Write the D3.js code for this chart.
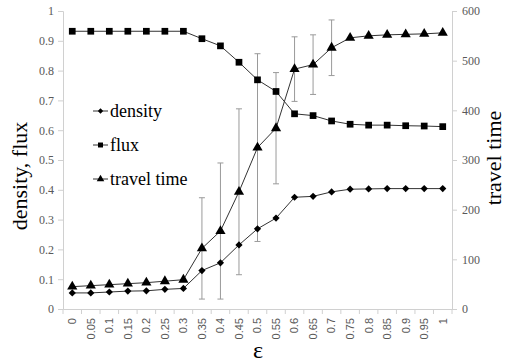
<!DOCTYPE html>
<html>
<head>
<meta charset="utf-8">
<script src="https://cdn.jsdelivr.net/npm/d3@7"></script>
<style>
  body { margin: 0; background: #fff; }
  svg { display: block; }
</style>
</head>
<body>
<svg width="507" height="363"></svg>
<script>
    // Data
    const epsilon = ["0", "0.05", "0.1", "0.15", "0.2", "0.25", "0.3", "0.35", "0.4", "0.45", "0.5",
      "0.55", "0.6", "0.65", "0.7", "0.75", "0.8", "0.85", "0.9", "0.95", "1"];
    const density = [0.054, 0.054, 0.057, 0.060, 0.061, 0.066, 0.069, 0.129, 0.155, 0.215, 0.269,
      0.305, 0.375, 0.378, 0.393, 0.402, 0.403, 0.404, 0.404, 0.404, 0.404];
    const flux = [0.932, 0.932, 0.932, 0.932, 0.932, 0.932, 0.932, 0.907, 0.883, 0.828, 0.769,
      0.730, 0.655, 0.649, 0.631, 0.620, 0.617, 0.617, 0.615, 0.614, 0.612];
    const travelTime = [45, 47, 49, 51, 53, 56, 59, 122, 157, 236, 325,
      364, 483, 492, 526, 546, 550, 552, 553, 554, 556];
    const travelErr = [0, 0, 0, 0, 0, 0, 0, 102, 137, 167, 189,
      112, 65, 60, 56, 0, 0, 0, 0, 0, 0];
    const leftTicks = [0, 0.1, 0.2, 0.3, 0.4, 0.5, 0.6, 0.7, 0.8, 0.9, 1];
    const rightTicks = [0, 100, 200, 300, 400, 500, 600];

    const serif = "'Liberation Serif', 'DejaVu Serif', serif";
    const sans = "'Liberation Sans', 'DejaVu Sans', sans-serif";

    const margin = { top: 11, right: 55, bottom: 54, left: 63 },
      width = 507 - margin.left - margin.right,
      height = 363 - margin.top - margin.bottom;

    const svg = d3.select("svg")
      .append("g")
      .attr("transform", `translate(${margin.left}, ${margin.top})`);

    const x = d3.scaleBand().domain(epsilon).range([0, width]);
    const cx = d => x(d) + x.bandwidth() / 2;
    const yL = d3.scaleLinear().domain([0, 1]).range([height, 0]);
    const yR = d3.scaleLinear().domain([0, 600]).range([height, 0]);

    const axisColor = "#d0d0d0";
    const labelColor = "#595959";

    // left axis
    const gl = svg.append("g").call(d3.axisLeft(yL).tickValues(leftTicks).tickSize(5).tickFormat(d3.format("")));
    gl.selectAll("line, path").attr("stroke", axisColor);
    gl.selectAll("text").attr("fill", labelColor).attr("font-family", serif)
      .attr("font-size", 12).attr("x", -9);

    // right axis
    const gr = svg.append("g").attr("transform", `translate(${width},0)`)
      .call(d3.axisRight(yR).tickValues(rightTicks).tickSize(5));
    gr.selectAll("line, path").attr("stroke", axisColor);
    gr.selectAll("text").attr("fill", labelColor).attr("font-family", serif)
      .attr("font-size", 12).attr("x", 10);

    // x axis, ticks at band edges
    const gx = svg.append("g").attr("transform", `translate(0,${height})`)
      .call(d3.axisBottom(x).tickSize(0).tickSizeOuter(0));
    gx.select("path").attr("stroke", axisColor);
    gx.selectAll("text")
      .attr("fill", labelColor)
      .attr("font-family", sans)
      .attr("font-size", 11)
      .attr("transform", "rotate(-90)")
      .attr("text-anchor", "end")
      .attr("x", -9)
      .attr("y", 0)
      .attr("dy", "0.35em");
    gx.selectAll(".edge").data(d3.range(epsilon.length + 1)).enter().append("line")
      .attr("class", "edge")
      .attr("x1", i => i * x.step()).attr("x2", i => i * x.step())
      .attr("y1", 0).attr("y2", 5)
      .attr("stroke", axisColor);

    // error bars on travel time
    const errData = epsilon.map((e, i) => ({ e, v: travelTime[i], err: travelErr[i] })).filter(d => d.err > 0);
    const eb = svg.append("g").attr("stroke", "#9a9a9a").attr("stroke-width", 1);
    eb.selectAll(".bar").data(errData).enter().append("line")
      .attr("x1", d => cx(d.e)).attr("x2", d => cx(d.e))
      .attr("y1", d => yR(d.v - d.err)).attr("y2", d => yR(d.v + d.err));
    eb.selectAll(".capT").data(errData).enter().append("line")
      .attr("x1", d => cx(d.e) - 3).attr("x2", d => cx(d.e) + 3)
      .attr("y1", d => yR(d.v + d.err)).attr("y2", d => yR(d.v + d.err));
    eb.selectAll(".capB").data(errData).enter().append("line")
      .attr("x1", d => cx(d.e) - 3).attr("x2", d => cx(d.e) + 3)
      .attr("y1", d => yR(d.v - d.err)).attr("y2", d => yR(d.v - d.err));

    // series (diamond = square turned 45 degrees)
    const series = [
      { name: "density", values: density, y: yL, symbol: d3.symbolSquare, size: 26, rot: 45 },
      { name: "flux", values: flux, y: yL, symbol: d3.symbolSquare, size: 45, rot: 0 },
      { name: "travel time", values: travelTime, y: yR, symbol: d3.symbolTriangle, size: 45, rot: 0 }
    ];

    series.forEach(s => {
      const line = d3.line().x((d, i) => cx(epsilon[i])).y(d => s.y(d));
      svg.append("path").datum(s.values)
        .attr("d", line)
        .attr("fill", "none")
        .attr("stroke", "#333")
        .attr("stroke-width", 1);
      svg.append("g").selectAll("path").data(s.values).enter().append("path")
        .attr("d", d3.symbol().type(s.symbol).size(s.size))
        .attr("transform", (d, i) => `translate(${cx(epsilon[i])},${s.y(d)}) rotate(${s.rot})`)
        .attr("fill", "#000");
    });

    // legend
    const legend = svg.append("g").attr("transform", "translate(30, 100)");
    series.forEach((s, i) => {
      const g = legend.append("g").attr("transform", `translate(0, ${i * 34})`);
      g.append("line").attr("x1", 0).attr("x2", 15).attr("stroke", "#333");
      g.append("path").attr("d", d3.symbol().type(s.symbol).size(s.size * 0.55))
        .attr("transform", `translate(7.5,0) rotate(${s.rot})`).attr("fill", "#000");
      g.append("text").attr("x", 17).attr("y", 6)
        .attr("font-family", serif).attr("font-size", 18)
        .text(s.name);
    });

    // axis titles
    const root = d3.select("svg");
    root.append("text")
      .attr("transform", "translate(27,176) rotate(-90)")
      .attr("text-anchor", "middle")
      .attr("font-family", serif).attr("font-size", 22)
      .text("density, flux");
    root.append("text")
      .attr("transform", "translate(501,158) rotate(-90)")
      .attr("text-anchor", "middle")
      .attr("font-family", serif).attr("font-size", 22)
      .text("travel time");
    root.append("text")
      .attr("x", 258).attr("y", 358)
      .attr("text-anchor", "middle")
      .attr("font-family", serif).attr("font-size", 24)
      .text("ε");
</script>
</body>
</html>
